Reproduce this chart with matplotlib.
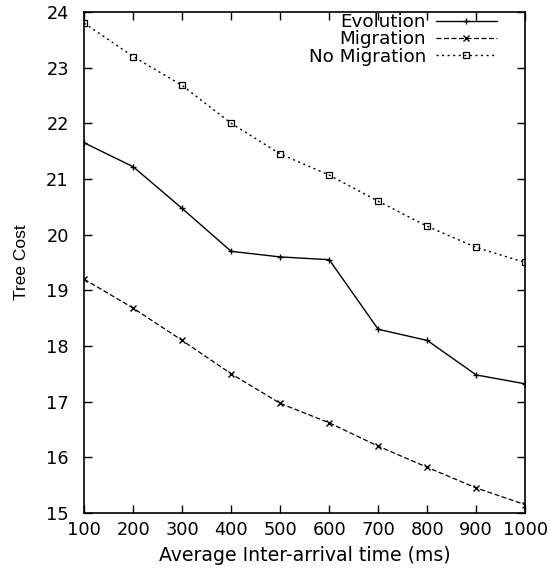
import matplotlib.pyplot as plt

# inter-arrival times (ms)
arrival = [100, 200, 300, 400, 500, 600, 700, 800, 900, 1000]

# tree cost per strategy
evolution = [21.65, 21.22, 20.47, 19.7, 19.6, 19.55, 18.3, 18.1, 17.48, 17.32]
migration = [19.2, 18.68, 18.1, 17.5, 16.97, 16.62, 16.2, 15.82, 15.45, 15.15]
no_migration = [23.8, 23.2, 22.68, 22.0, 21.45, 21.07, 20.6, 20.15, 19.77, 19.5]

plt.rcParams["font.family"] = ["DejaVu Sans"]

fig = plt.figure(figsize=(5.5, 5.7), dpi=100)
ax = fig.add_axes([0.153, 0.1, 0.802, 0.879])

ax.plot(arrival, evolution, color="black", linestyle="-", linewidth=1.0,
        marker="+", markersize=4, label="Evolution")
ax.plot(arrival, migration, color="black", linestyle=(0, (4, 2)), linewidth=0.9,
        marker="x", markersize=5, label="Migration")
ax.plot(arrival, no_migration, color="black", linestyle=(0, (1.5, 2.5)), linewidth=1.0,
        marker="s", markersize=4, markerfacecolor="none", markeredgewidth=0.9,
        label="No Migration")

ax.set_xlim(100, 1000)
ax.set_ylim(15, 24)
ax.set_xticks(arrival)
ax.set_yticks(range(15, 25))
ax.tick_params(direction="in", top=True, right=True, length=6, width=1,
               labelsize=12.8)
ax.tick_params(axis="y", pad=11)
ax.tick_params(axis="x", pad=6)
for s in ax.spines.values():
    s.set_linewidth(1.2)

ax.set_xlabel("Average Inter-arrival time (ms)", fontsize=13.6, labelpad=5)
ax.set_ylabel("Tree Cost", fontsize=12.5,
              family=["Liberation Sans Narrow", "Liberation Sans"], labelpad=12)

ax.legend(loc="upper right", bbox_to_anchor=(0.935, 0.998), frameon=False,
          markerfirst=False, handlelength=3.3, handletextpad=0.55,
          labelspacing=-0.04, borderaxespad=0, borderpad=0,
          prop={"size": 13.2})

fig.savefig("out.png", dpi=100)
